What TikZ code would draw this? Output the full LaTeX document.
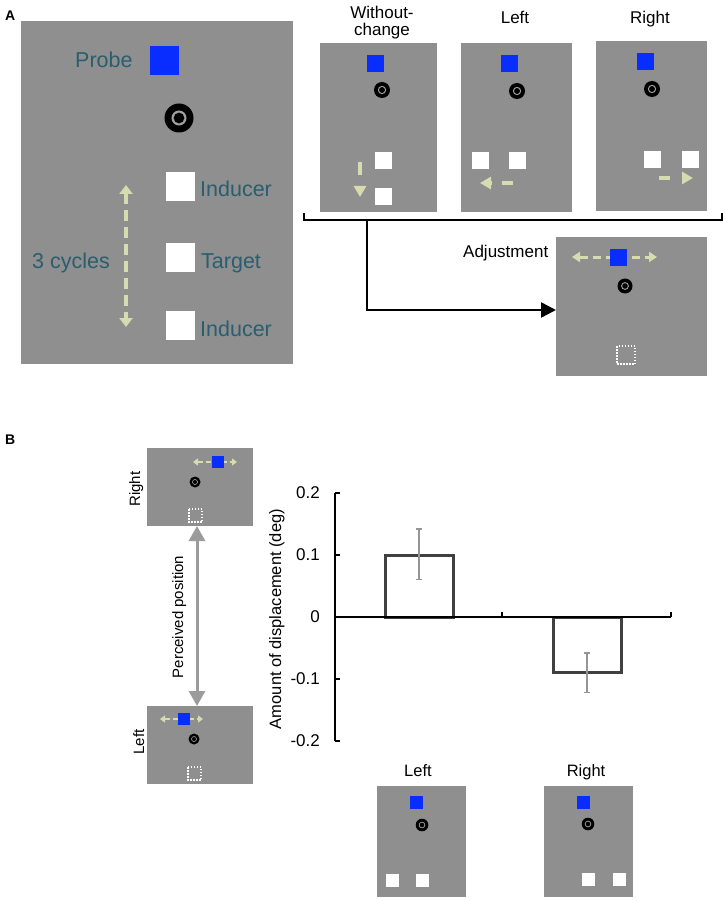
\documentclass[tikz,border=0pt]{standalone}
\usepackage{fontspec}
\setmainfont{Liberation Sans}
\usetikzlibrary{arrows.meta}
\definecolor{scr}{RGB}{143,143,143}
\definecolor{probeblue}{RGB}{10,45,255}
\definecolor{tealtxt}{RGB}{42,94,110}
\definecolor{pale}{RGB}{214,220,176}
\definecolor{ringgray}{RGB}{160,160,160}
\definecolor{barline}{RGB}{64,64,64}
\definecolor{errgray}{RGB}{150,150,150}
\definecolor{arrgray}{RGB}{155,155,155}
\newcommand\fixat[3]{%
  \fill[black] (#1,#2) circle[radius=#3pt];
  \fill[ringgray] (#1,#2) circle[radius=0.52*#3pt];
  \fill[black] (#1,#2) circle[radius=0.37*#3pt];}
\tikzset{
  panel/.style={fill=scr, draw=none, inner sep=0pt, outer sep=0pt, anchor=north west},
  lblA/.style={font=\fontsize{21.5}{24}\selectfont, text=tealtxt, anchor=base west, inner sep=0pt},
  lbl/.style={font=\fontsize{17}{19}\selectfont, anchor=base, inner sep=0pt},
  lblsm/.style={font=\fontsize{16.5}{19}\selectfont, anchor=base, inner sep=0pt},
  lblrot/.style={font=\fontsize{15}{17}\selectfont, anchor=base, inner sep=0pt, rotate=90},
  panlabel/.style={font=\bfseries\fontsize{14}{16}\selectfont, anchor=base west, inner sep=0pt},
  palearrow/.style={pale, line width=3.5pt},
  tip/.style={-{Triangle[width=12pt,length=11pt]}},
  bar/.style={barline, line width=3pt, fill=white},
  errbar/.style={errgray, line width=1.5pt, {Bar[width=6pt]}-{Bar[width=6pt]}},
  axis/.style={black, line width=2pt},
  dotsq/.style={white, line width=1.5pt, dash pattern=on 1.5pt off 1.5pt},
}
\begin{document}
\begin{tikzpicture}[x=1pt,y=-1pt]
\useasboundingbox (0,0) rectangle (726,901);
\fill[white] (0,0) rectangle (726,901);

% ---------------- Panel A ----------------
\node[panlabel] (labA) at (5,21) {A};
\node[panel, minimum width=272pt, minimum height=343pt] (big) at (21,21) {};
\fill[probeblue] (150,46) rectangle (179,75);
\fixat{179}{118}{14.5}
\fill[white] (166,172) rectangle (195,201);
\fill[white] (166,243) rectangle (195,272);
\fill[white] (166,311) rectangle (195,340);
\node[lblA] (tProbe) at (75,68) {Probe};
\node[lblA] (tInd1) at (200,197) {Inducer};
\node[lblA] (tTarget) at (201,268) {Target};
\node[lblA] (tInd2) at (200,336) {Inducer};
\node[lblA] (tCyc) at (32,268) {3 cycles};
\coordinate (cyTop) at (126,185);
\coordinate (cyBot) at (126,327);
\draw[palearrow, dash pattern=on 11pt off 6pt,
  {Triangle[width=13pt,length=9pt]}-{Triangle[width=13pt,length=9pt]}] (cyTop) -- (cyBot);

% top conditions
\node[lbl] (tWo1) at (382,18.5) {Without-};
\node[lbl] (tWo2) at (382,35.5) {change};
\node[lbl] (tLeft) at (515,24) {Left};
\node[lbl] (tRight) at (650,24) {Right};

\node[panel, minimum width=117pt, minimum height=169pt] (p1) at (320,43) {};
\fill[probeblue] (367,55) rectangle (384,72);
\fixat{382}{90}{8}
\fill[white] (375,152) rectangle (392,169);
\fill[white] (375,188) rectangle (392,205);
\coordinate (a1s) at (360,162);
\coordinate (a1e) at (360,197);
\draw[palearrow, tip, dash pattern=on 13pt off 12pt] (a1s) -- (a1e);

\node[panel, minimum width=111pt, minimum height=169pt] (p2) at (461,43) {};
\fill[probeblue] (501,55) rectangle (518,72);
\fixat{517}{91}{8}
\fill[white] (472,152) rectangle (489,169);
\fill[white] (509,152) rectangle (526,169);
\coordinate (a2s) at (513,183);
\coordinate (a2e) at (480,183);
\draw[palearrow, tip, dash pattern=on 11pt off 10pt] (a2s) -- (a2e);

\node[panel, minimum width=111pt, minimum height=170pt] (p3) at (596,41) {};
\fill[probeblue] (637,53) rectangle (654,70);
\fixat{652}{89}{8}
\fill[white] (644,151) rectangle (661,168);
\fill[white] (682,151) rectangle (699,168);
\coordinate (a3s) at (659,178);
\coordinate (a3e) at (693,178);
\draw[palearrow, tip, dash pattern=on 11pt off 12pt] (a3s) -- (a3e);

% bracket
\coordinate (bL) at (304,213);
\coordinate (bLb) at (304,220);
\coordinate (bRb) at (722,220);
\coordinate (bR) at (722,213);
\draw[line width=2pt] (bL) -- (bLb) -- (bRb) -- (bR);

% adjustment
\node[panel, minimum width=151pt, minimum height=139pt] (adj) at (556,237) {};
\node[lbl, anchor=base west] (tAdj) at (463,257) {Adjustment};
\coordinate (arrStart) at (367,220);
\draw[line width=2.5pt, -{Triangle[width=15pt,length=15pt]}] (arrStart) |- ([yshift=-3.5pt]adj.west);
\coordinate (adjL) at (572,257);
\coordinate (adjR) at (657,257);
\draw[pale, line width=3pt, dash pattern=on 8pt off 5pt,
  {Triangle[width=10pt,length=8pt]}-{Triangle[width=10pt,length=8pt]}] (adjL) -- (adjR);
\fill[probeblue] (610,249) rectangle (627,266);
\fixat{625}{286}{7.5}
\draw[dotsq] (617,346) rectangle (635,364);

% ---------------- Panel B ----------------
\node[panlabel] (labB) at (5,444) {B};
\node[panel, minimum width=106pt, minimum height=78pt] (bRp) at (147,448) {};
\coordinate (bRl) at (193,462);
\coordinate (bRr) at (237,462);
\draw[pale, line width=1.8pt, dash pattern=on 5pt off 3pt,
  {Triangle[width=7pt,length=5pt]}-{Triangle[width=7pt,length=5pt]}] (bRl) -- (bRr);
\fill[probeblue] (212,456) rectangle (224,468);
\fixat{195}{482}{5.5}
\draw[dotsq] (189,509) rectangle (202,522);
\node[lblrot] (tBR) at (140,489) {Right};

\node[panel, minimum width=106pt, minimum height=78pt] (bLp) at (147,706) {};
\coordinate (bLl) at (160,719);
\coordinate (bLr) at (203,719);
\draw[pale, line width=1.8pt, dash pattern=on 5pt off 3pt,
  {Triangle[width=7pt,length=5pt]}-{Triangle[width=7pt,length=5pt]}] (bLl) -- (bLr);
\fill[probeblue] (178,713) rectangle (190,725);
\fixat{194}{739}{5.5}
\draw[dotsq] (188,767) rectangle (201,780);
\node[lblrot] (tBL) at (144,742) {Left};

\draw[arrgray, line width=3pt,
  {Triangle[width=16pt,length=15pt]}-{Triangle[width=16pt,length=15pt]}]
  ([xshift=-3pt]bRp.south) -- ([xshift=-3pt]bLp.north);
\node[lblrot] (tPerc) at (183,617) {Perceived position};

% chart
\draw[bar] (385,617) rectangle (453,555);
\draw[bar] (553,617) rectangle (621,672);
\coordinate (e1t) at (419,528);
\coordinate (e1b) at (419,580);
\coordinate (e2t) at (587,652);
\coordinate (e2b) at (587,693);
\draw[errbar] (e1t) -- (e1b);
\draw[errbar] (e2t) -- (e2b);
\coordinate (yTop) at (335,493);
\coordinate (yBot) at (335,741);
\draw[axis] (yTop) -- (yBot);
\foreach \yy in {493,555,679,741} \draw[axis] (335,\yy) -- (340,\yy);
\coordinate (xL) at (335,617);
\coordinate (xR) at (671,617);
\draw[axis] (xL) -- (xR);
\draw[axis] (502,617) -- (502,612);
\draw[axis] (671,617) -- (671,612);
\node[lbl, anchor=east] (y02) at (320,493) {0.2};
\node[lbl, anchor=east] (y01) at (320,555) {0.1};
\node[lbl, anchor=east] (y00) at (320,617) {0};
\node[lbl, anchor=east] (ym01) at (320,679) {-0.1};
\node[lbl, anchor=east] (ym02) at (320,741) {-0.2};
\node[lblsm, rotate=90] (ylab) at (281,619) {Amount of displacement (deg)};

% bottom panels
\node[lblsm] (tbL) at (418,776) {Left};
\node[lblsm] (tbR) at (586,776) {Right};
\node[panel, minimum width=89pt, minimum height=111pt] (bp1) at (377,786) {};
\fill[probeblue] (410,796) rectangle (423,809);
\fixat{422}{825}{6.3}
\fill[white] (386,874) rectangle (399,887);
\fill[white] (416,874) rectangle (429,887);
\node[panel, minimum width=89pt, minimum height=111pt] (bp2) at (544,786) {};
\fill[probeblue] (577,796) rectangle (590,809);
\fixat{588}{824}{6.3}
\fill[white] (582,873) rectangle (595,886);
\fill[white] (613,873) rectangle (626,886);
\end{tikzpicture}
\end{document}
